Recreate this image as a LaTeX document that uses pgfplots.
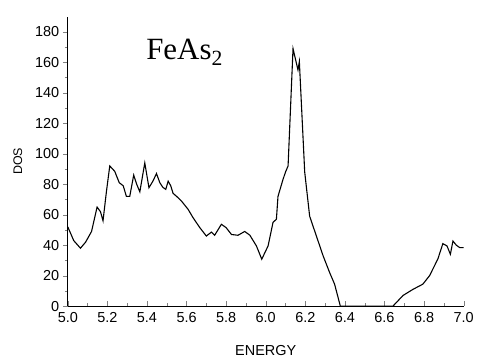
\documentclass[border=0pt]{standalone}
\usepackage{pgfplots}
\pgfplotsset{compat=1.18}
\usepackage{fontspec}
\setmainfont{Liberation Sans}
\newfontfamily\titlefont{Liberation Serif}

\begin{document}
\begin{tikzpicture}
\begin{axis}[
    scale only axis,
    width=397pt, height=290.3pt,
    xmin=5.0, xmax=7.0, ymin=0, ymax=190,
    axis x line*=bottom, axis y line*=left,
    xtick={5.0,5.2,...,7.01}, minor x tick num=1,
    ytick={0,20,...,180}, minor y tick num=1,
    xticklabel style={/pgf/number format/fixed, /pgf/number format/fixed zerofill, /pgf/number format/precision=1, font=\fontsize{14.5}{16}\selectfont, yshift=-3pt},
    yticklabel style={font=\fontsize{14.5}{16}\selectfont},
    /pgf/number format/assume math mode=true,
    xtick align=inside, ytick align=outside,
    major tick length=5pt, minor tick length=3pt,
    xlabel={ENERGY}, ylabel={DOS},
    xlabel style={font=\fontsize{14.5}{16}\selectfont, at={(axis description cs:0.5,0)}, anchor=center, yshift=-45pt},
    ylabel style={font=\fontsize{12.5}{14}\selectfont, at={(axis description cs:0,0.5)}, anchor=center, yshift=50pt},
    axis line style={line width=0.8pt},
    clip=false,
]
\addplot[black, line width=1.1pt] coordinates {
(5.000,52) (5.030,43) (5.064,38) (5.090,42) (5.120,49) (5.148,65)
(5.165,62) (5.178,56) (5.195,75) (5.212,92) (5.237,88.5) (5.260,81)
(5.280,79) (5.296,72) (5.313,72) (5.333,86) (5.348,80) (5.364,75)
(5.389,94) (5.410,77.7) (5.430,82) (5.448,87) (5.465,81) (5.480,78)
(5.495,76.6) (5.507,82) (5.520,79) (5.532,74) (5.550,72) (5.574,69)
(5.608,63.5) (5.633,58) (5.667,51.5) (5.700,46) (5.726,48.6) (5.742,46.5)
(5.776,53.7) (5.800,51.5) (5.827,47) (5.860,46.5) (5.894,49) (5.920,46.5)
(5.953,39.5) (5.980,30.8) (6.012,39.5) (6.037,55) (6.054,57) (6.062,72)
(6.087,83) (6.100,88) (6.113,92) (6.138,169) (6.163,155) (6.170,160.5)
(6.197,88) (6.222,59) (6.256,46) (6.290,33) (6.323,22) (6.348,14.4)
(6.377,0) (6.643,0) (6.694,7) (6.744,11) (6.794,14.4) (6.828,20)
(6.870,31) (6.895,41) (6.916,39.5) (6.933,34) (6.946,42.7) (6.963,40)
(6.980,38.4) (7.000,38.4)
};
\node[anchor=base, font=\titlefont\fontsize{31}{34}\selectfont] at (axis cs:5.59,161.6) {FeAs\textsubscript{2}};
\end{axis}
\path (current axis.south west) ++(-68pt,-51pt) (current axis.north east) ++(12pt,16.7pt);
\end{tikzpicture}
\end{document}
